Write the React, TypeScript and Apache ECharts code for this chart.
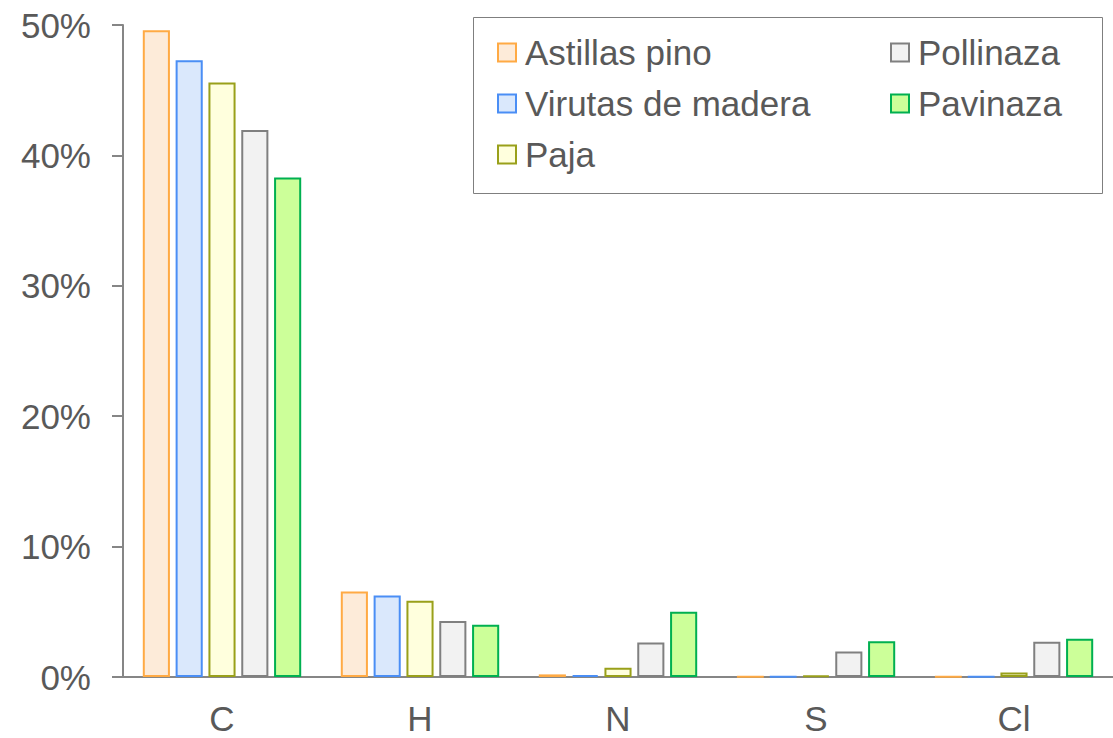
import React, { useEffect, useRef } from "react";
import * as echarts from "echarts";

const categories = ["C", "H", "N", "S", "Cl"];
const seriesNames = ["Astillas pino", "Virutas de madera", "Paja", "Pollinaza", "Pavinaza"];
const astillasPino = [49.6, 6.55, 0.2, 0.02, 0.02];
const virutasMadera = [47.3, 6.25, 0.15, 0.02, 0.02];
const paja = [45.6, 5.85, 0.7, 0.1, 0.35];
const pollinaza = [41.95, 4.3, 2.65, 1.95, 2.7];
const pavinaza = [38.3, 4.0, 5.0, 2.75, 2.93];
const fills = ["#FDEBD9", "#DAE8FC", "#FFFFDD", "#F2F2F2", "#CCFF99"];
const borders = ["#FFAA44", "#4A8EF5", "#99A01A", "#808080", "#00B050"];
const yTicks = [0, 10, 20, 30, 40, 50];

const FONT = "Liberation Sans, Arial, sans-serif";
const TEXT = "#595959";
const FS = 35;

export default function App() {
  const ref = useRef<HTMLDivElement>(null);
  useEffect(() => {
    document.body.style.margin = "0";
    if (!ref.current) return;
    const chart = echarts.init(ref.current, undefined, { renderer: "svg" });
    const data = [astillasPino, virutasMadera, paja, pollinaza, pavinaza];
    const legendBase = {
      orient: "vertical",
      top: 35,
      padding: 0,
      itemGap: 16,
      itemWidth: 18,
      itemHeight: 18,
      icon: "rect",
      textStyle: { fontSize: FS, color: TEXT, fontFamily: FONT, padding: [0, 0, 0, 4] },
    };
    chart.setOption({
      animation: false,
      grid: { left: 123, right: 0, top: 25, bottom: 61, containLabel: false },
      legend: [
        { ...legendBase, data: seriesNames.slice(0, 3), left: 497 },
        { ...legendBase, data: seriesNames.slice(3), left: 890 },
      ],
      graphic: [
        {
          type: "rect",
          shape: { x: 473.5, y: 17.5, width: 629, height: 176 },
          style: { fill: "none", stroke: "#7F7F7F", lineWidth: 1 },
          z: 10,
        },
      ],
      xAxis: {
        type: "category",
        data: categories,
        axisTick: { show: false },
        axisLine: { lineStyle: { color: "#868686", width: 2 } },
        axisLabel: { fontSize: FS, color: TEXT, fontFamily: FONT, margin: 24 },
      },
      yAxis: {
        type: "value",
        min: yTicks[0],
        max: yTicks[yTicks.length - 1],
        interval: 10,
        splitLine: { show: false },
        axisLine: { show: true, lineStyle: { color: "#868686", width: 2 } },
        axisTick: { show: true, length: 11, lineStyle: { color: "#868686", width: 2 } },
        axisLabel: {
          fontSize: FS,
          color: TEXT,
          fontFamily: FONT,
          margin: 32,
          formatter: "{value}%",
        },
      },
      series: seriesNames.map((name, i) => ({
        name,
        type: "bar",
        data: data[i],
        barGap: "21%",
        barCategoryGap: "20%",
        itemStyle: { color: fills[i], borderColor: borders[i], borderWidth: 2 },
      })),
    });
    return () => chart.dispose();
  }, []);
  return <div ref={ref} style={{ width: 1113, height: 738 }} />;
}
